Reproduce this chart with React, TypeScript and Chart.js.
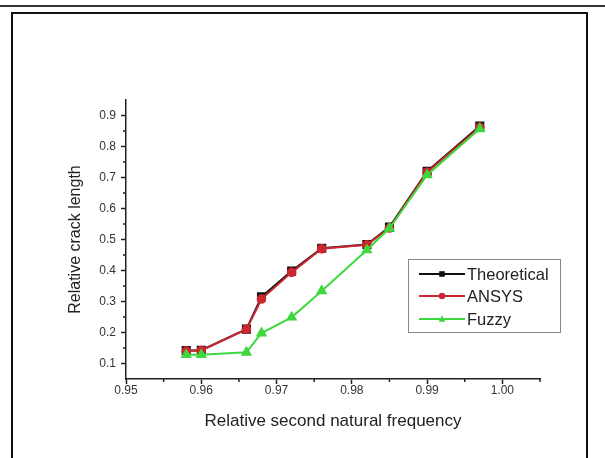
import React, { useEffect, useRef } from 'react';
import { Chart, registerables } from 'chart.js';

Chart.register(...registerables);

// ---- data ----
const frequency = [0.958, 0.96, 0.966, 0.968, 0.972, 0.976, 0.982, 0.985, 0.99, 0.997];
const theoretical = [0.142, 0.143, 0.211, 0.315, 0.398, 0.472, 0.484, 0.54, 0.72, 0.866];
const ansys = [0.14, 0.142, 0.21, 0.308, 0.394, 0.47, 0.483, 0.537, 0.717, 0.862];
const fuzzy = [0.128, 0.128, 0.136, 0.198, 0.249, 0.334, 0.466, 0.536, 0.708, 0.857];

const seriesNames = ['Theoretical', 'ANSYS', 'Fuzzy'];
const xTicks = [0.95, 0.96, 0.97, 0.98, 0.99, 1.0];
const xMinorTicks = [0.955, 0.965, 0.975, 0.985, 0.995, 1.005];
const yTicks = [0.1, 0.2, 0.3, 0.4, 0.5, 0.6, 0.7, 0.8, 0.9];
const yMinorTicks = [0.15, 0.25, 0.35, 0.45, 0.55, 0.65, 0.75, 0.85];

const xTitle = 'Relative second natural frequency';
const yTitle = 'Relative crack length';

const FONT = "'Liberation Sans', Arial, sans-serif";
const AXIS = '#222';

const toPoints = (ys: number[]) => frequency.map((x, i) => ({ x, y: ys[i] }));

function drawMarker(ctx: CanvasRenderingContext2D, style: string, x: number, y: number, r: number, color: string) {
  ctx.save();
  ctx.fillStyle = color;
  ctx.beginPath();
  if (style === 'rect') {
    ctx.rect(x - r, y - r, 2 * r, 2 * r);
  } else if (style === 'circle') {
    ctx.arc(x, y, r, 0, Math.PI * 2);
  } else {
    ctx.moveTo(x, y - r * 1.1);
    ctx.lineTo(x + r, y + r * 0.8);
    ctx.lineTo(x - r, y + r * 0.8);
    ctx.closePath();
  }
  ctx.fill();
  ctx.restore();
}

const minorTicksPlugin = {
  id: 'minorTicks',
  afterDraw(chart: any) {
    const { ctx } = chart;
    const xs = chart.scales.x;
    const ys = chart.scales.y;
    ctx.save();
    ctx.strokeStyle = AXIS;
    ctx.lineWidth = 1.5;
    ctx.beginPath();
    xMinorTicks.forEach((v) => {
      const px = xs.getPixelForValue(v);
      ctx.moveTo(px, xs.top);
      ctx.lineTo(px, xs.top + 3);
    });
    yMinorTicks.forEach((v) => {
      const py = ys.getPixelForValue(v);
      ctx.moveTo(ys.right, py);
      ctx.lineTo(ys.right - 3, py);
    });
    ctx.stroke();
    ctx.restore();
  },
};

const legendPlugin = {
  id: 'boxLegend',
  afterDraw(chart: any) {
    const { ctx } = chart;
    const left = 408.5;
    const top = 259.5;
    const w = 152;
    const h = 73;
    ctx.save();
    ctx.fillStyle = '#fff';
    ctx.fillRect(left, top, w, h);
    ctx.strokeStyle = '#888';
    ctx.lineWidth = 1;
    ctx.strokeRect(left, top, w, h);
    const rows = [274, 296, 319];
    chart.data.datasets.forEach((ds: any, i: number) => {
      const y = rows[i];
      ctx.strokeStyle = ds.borderColor;
      ctx.lineWidth = 2;
      ctx.beginPath();
      ctx.moveTo(419, y);
      ctx.lineTo(465, y);
      ctx.stroke();
      const r = ds.pointStyle === 'rect' ? 2.8 : ds.pointStyle === 'circle' ? 3.2 : 3.3;
      drawMarker(ctx, ds.pointStyle, 442, y, r, ds.pointBackgroundColor);
      ctx.fillStyle = '#222';
      ctx.font = `16.5px ${FONT}`;
      ctx.textBaseline = 'middle';
      ctx.textAlign = 'left';
      ctx.fillText(ds.label, 467, y + 1);
    });
    ctx.restore();
  },
};

export default function App() {
  const canvasRef = useRef<HTMLCanvasElement | null>(null);

  useEffect(() => {
    const canvas = canvasRef.current;
    if (!canvas) return;
    const chart = new Chart(canvas, {
      type: 'line',
      data: {
        datasets: [
          {
            label: seriesNames[0],
            data: toPoints(theoretical),
            borderColor: '#111111',
            backgroundColor: '#111111',
            pointBackgroundColor: '#111111',
            pointBorderColor: '#111111',
            pointStyle: 'rect',
            pointRadius: 5,
            borderWidth: 2,
            order: 2,
          },
          {
            label: seriesNames[1],
            data: toPoints(ansys),
            borderColor: '#cc2630',
            backgroundColor: '#cc2630',
            pointBackgroundColor: '#cc2630',
            pointBorderColor: '#cc2630',
            pointStyle: 'circle',
            pointRadius: 3.8,
            borderWidth: 2,
            order: 1,
          },
          {
            label: seriesNames[2],
            data: toPoints(fuzzy),
            borderColor: '#3ed83e',
            backgroundColor: '#3ed83e',
            pointBackgroundColor: '#3ed83e',
            pointBorderColor: '#3ed83e',
            pointStyle: 'triangle',
            pointRadius: 4.6,
            borderWidth: 2,
            order: 0,
          },
        ],
      },
      options: {
        responsive: false,
        animation: false,
        events: [],
        layout: { padding: { left: 0, top: 100, right: 65, bottom: 0 } },
        plugins: { legend: { display: false }, tooltip: { enabled: false } },
        scales: {
          x: {
            type: 'linear',
            min: 0.95,
            max: 1.005,
            afterBuildTicks: (scale: any) => {
              scale.ticks = xTicks.map((v) => ({ value: v }));
            },
            afterFit: (scale: any) => {
              scale.height = 79;
            },
            ticks: {
              callback: (v: any) => Number(v).toFixed(2),
              font: { family: FONT, size: 12 },
              color: '#333',
              padding: -1,
              maxRotation: 0,
              autoSkip: false,
            },
            grid: {
              drawOnChartArea: false,
              drawTicks: true,
              tickLength: 5,
              tickColor: AXIS,
              tickWidth: 1.5,
            },
            border: { display: true, color: AXIS, width: 1.5 },
            title: {
              display: true,
              text: xTitle,
              font: { family: FONT, size: 17 },
              color: '#222',
              padding: { top: 0, bottom: 26 },
            },
          },
          y: {
            type: 'linear',
            min: 0.05,
            max: 0.95,
            afterBuildTicks: (scale: any) => {
              scale.ticks = yTicks.map((v) => ({ value: v }));
            },
            afterFit: (scale: any) => {
              scale.width = 126;
            },
            ticks: {
              callback: (v: any) => Number(v).toFixed(1),
              font: { family: FONT, size: 12 },
              color: '#333',
              padding: 5,
              autoSkip: false,
            },
            grid: {
              drawOnChartArea: false,
              drawTicks: true,
              tickLength: 5,
              tickColor: AXIS,
              tickWidth: 1.5,
            },
            border: { display: true, color: AXIS, width: 1.5 },
            title: {
              display: true,
              text: yTitle,
              font: { family: FONT, size: 16 },
              color: '#222',
              padding: { top: 66, bottom: 0 },
            },
          },
        },
      },
      plugins: [minorTicksPlugin, legendPlugin],
    });
    return () => chart.destroy();
  }, []);

  return (
    <div style={{ position: 'absolute', left: 0, top: 0, width: 605, height: 458, overflow: 'hidden', background: '#fff' }}>
      <div style={{ position: 'absolute', left: 0, top: 5, width: 605, height: 2, background: '#333' }} />
      <div
        style={{
          position: 'absolute',
          left: 11,
          top: 12,
          width: 573,
          height: 470,
          border: '2px solid #111',
          boxSizing: 'content-box',
        }}
      />
      <canvas ref={canvasRef} width={605} height={458} style={{ position: 'absolute', left: 0, top: 0 }} />
    </div>
  );
}
